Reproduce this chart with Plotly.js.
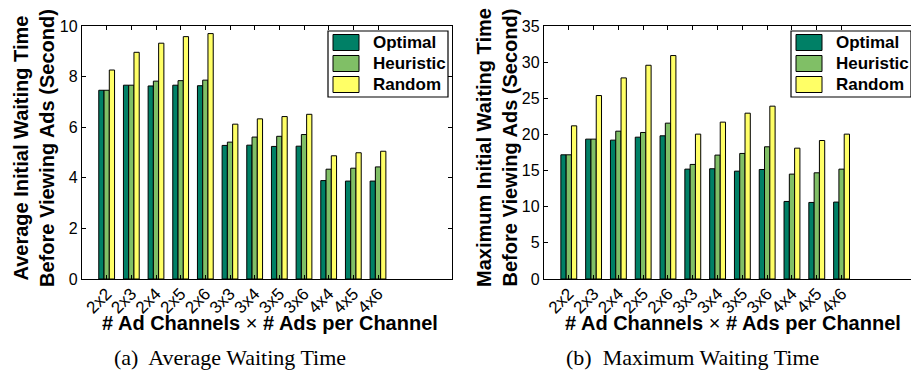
<!DOCTYPE html>
<html>
<head>
<meta charset="utf-8">
<script src="https://cdn.plot.ly/plotly-3.0.1.min.js"></script>
<style>html,body{margin:0;padding:0;background:#fff}#chart{width:911px;height:372px}</style>
</head>
<body>
<div id="chart"></div>
<script>
// ---- data ----
const categories = ["2x2","2x3","2x4","2x5","2x6","3x3","3x4","3x5","3x6","4x4","4x5","4x6"];
const seriesNames = ["Optimal","Heuristic","Random"];
const avgOptimal   = [7.46,7.66,7.63,7.66,7.64,5.28,5.29,5.24,5.25,3.89,3.87,3.87];
const avgHeuristic = [7.46,7.66,7.82,7.84,7.86,5.41,5.61,5.64,5.71,4.34,4.38,4.43];
const avgRandom    = [8.26,8.96,9.32,9.58,9.70,6.12,6.33,6.42,6.51,4.87,4.99,5.05];
const maxOptimal   = [17.18,19.35,19.21,19.62,19.81,15.20,15.25,14.92,15.15,10.73,10.59,10.64];
const maxHeuristic = [17.18,19.35,20.45,20.27,21.56,15.85,17.14,17.37,18.29,14.51,14.69,15.20];
const maxRandom    = [21.19,25.38,27.82,29.57,30.91,20.04,21.70,22.94,23.91,18.10,19.16,20.04];
const colors = ["#008066","#80BF66","#FFFF66"];

// ---- layout helpers ----
const W = 911, H = 372;
const px = x => x / W, py = y => 1 - y / H;
const font = "Liberation Sans, Arial, sans-serif";

const traces = [];
[[avgOptimal,avgHeuristic,avgRandom],[maxOptimal,maxHeuristic,maxRandom]].forEach((set, k) => {
  set.forEach((vals, i) => {
    traces.push({
      type: "bar", x: categories, y: vals, name: seriesNames[i],
      xaxis: k ? "x2" : "x", yaxis: k ? "y2" : "y",
      marker: {color: colors[i], line: {color: "#000", width: 1}},
      showlegend: false, hoverinfo: "skip"
    });
  });
});

const axisCommon = {
  showline: true, linecolor: "#000", linewidth: 1.2,
  ticks: "inside", ticklen: 4, tickcolor: "#000",
  showgrid: false, zeroline: false,
  tickfont: {family: font, size: 16, color: "#000"}
};
const xTickFont = {family: font, size: 17, color: "#000"};

const layout = {
  width: W, height: H,
  margin: {l: 0, r: 0, t: 0, b: 0},
  paper_bgcolor: "#fff", plot_bgcolor: "#fff",
  barmode: "group", bargap: 0.36, bargroupgap: 0,
  showlegend: false,
  xaxis: Object.assign({}, axisCommon, {domain: [px(82), px(452)], anchor: "y", type: "category",
    range: [-1, 14], tickangle: -45, mirror: "ticks", ticklabelstandoff: -3, tickfont: xTickFont}),
  yaxis: Object.assign({}, axisCommon, {domain: [py(279), py(26)], anchor: "x", range: [0, 10], dtick: 2, mirror: "ticks"}),
  xaxis2: Object.assign({}, axisCommon, {domain: [px(544), 1], anchor: "y2", type: "category",
    range: [-1, 13.8], tickangle: -45, mirror: "ticks", ticklabelstandoff: -3, tickfont: xTickFont}),
  yaxis2: Object.assign({}, axisCommon, {domain: [py(279), py(26)], anchor: "x2", range: [0, 35], dtick: 5}),
  shapes: [], annotations: []
};

// axis titles and captions
const yTitles = ["Average Initial Waiting Time<br>Before Viewing Ads (Second)",
                 "Maximum Initial Waiting Time<br>Before Viewing Ads (Second)"];
const xTitle = "<b># Ad Channels</b> × <b># Ads per Channel</b>";
const captions = ["(a)  Average Waiting Time", "(b)  Maximum Waiting Time"];
const ytX = [34, 497], xtX = [270, 733], capX = [230, 692];
const legBox = [[328, 448], [791, 911]];

for (let k = 0; k < 2; k++) {
  layout.annotations.push({xref: "paper", yref: "paper", x: px(ytX[k]), y: py(148),
    text: yTitles[k], textangle: -90, showarrow: false, xanchor: "center", yanchor: "middle",
    font: {family: font, size: 20, weight: "bold", color: "#000"}});
  layout.annotations.push({xref: "paper", yref: "paper", x: px(xtX[k]), y: py(323),
    text: xTitle, showarrow: false, xanchor: "center", yanchor: "middle",
    font: {family: font, size: 20, color: "#000"}});
  layout.annotations.push({xref: "paper", yref: "paper", x: px(capX[k]), y: py(357),
    text: captions[k], showarrow: false, xanchor: "center", yanchor: "middle",
    font: {family: "Liberation Serif, Times New Roman, serif", size: 22, color: "#000"}});
  // legend box
  const [bx0, bx1] = legBox[k];
  layout.shapes.push({type: "rect", xref: "paper", yref: "paper", x0: px(bx0), x1: px(bx1),
    y0: py(97), y1: py(31), line: {color: "#000", width: 1.2}, fillcolor: "#fff"});
  seriesNames.forEach((name, i) => {
    const yc = 42.5 + i * 21;
    layout.shapes.push({type: "rect", xref: "paper", yref: "paper",
      x0: px(bx0 + 5), x1: px(bx0 + 31), y0: py(yc + 8), y1: py(yc - 8),
      line: {color: "#000", width: 1}, fillcolor: colors[i]});
    layout.annotations.push({xref: "paper", yref: "paper", x: px(bx0 + 43), y: py(yc),
      text: name, showarrow: false, xanchor: "left", yanchor: "middle",
      font: {family: font, size: 17, weight: "bold", color: "#000"}});
  });
}

Plotly.newPlot("chart", traces, layout, {staticPlot: true, displayModeBar: false});
</script>
</body>
</html>
